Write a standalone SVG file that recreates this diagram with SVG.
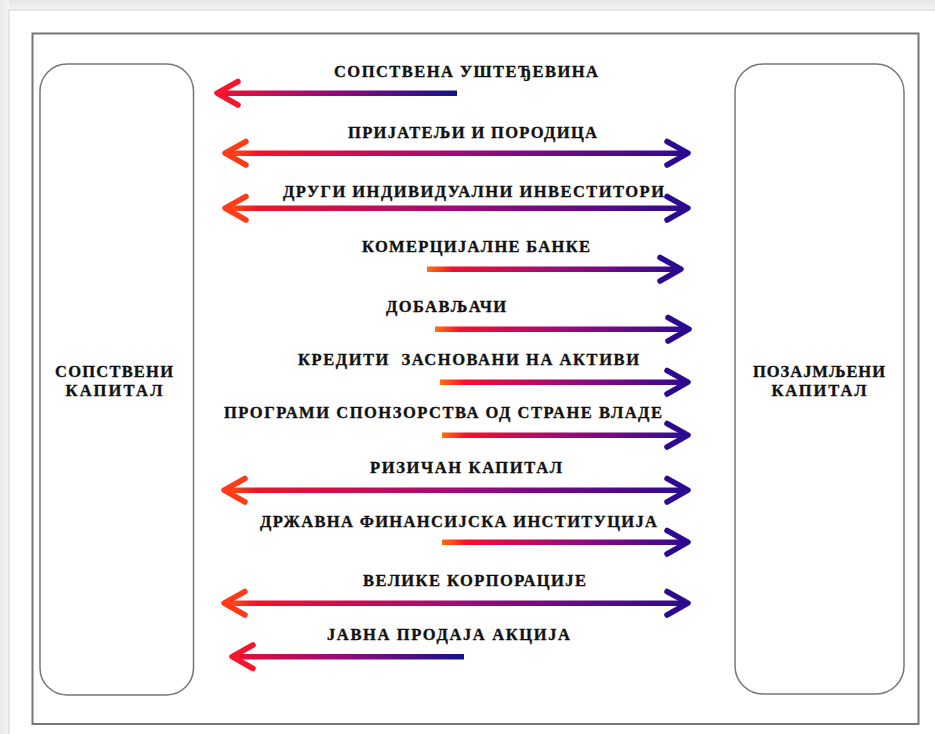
<svg xmlns="http://www.w3.org/2000/svg" width="935" height="734" viewBox="0 0 935 734">
<defs>
<linearGradient id="bgTop" x1="0" y1="0" x2="0" y2="1"><stop offset="0" stop-color="#e6e6e6"/><stop offset="1" stop-color="#f4f4f4"/></linearGradient>
<linearGradient id="bgLeft" x1="0" y1="0" x2="1" y2="0"><stop offset="0" stop-color="#e8e8e8"/><stop offset="1" stop-color="#f6f6f6"/></linearGradient>
<linearGradient id="gBoth" x1="0" y1="0" x2="1" y2="0"><stop offset="0" stop-color="#ff5a10"/><stop offset="0.07" stop-color="#f5102a"/><stop offset="0.5" stop-color="#a00a78"/><stop offset="1" stop-color="#2c0a90"/></linearGradient>
<linearGradient id="gRight" x1="0" y1="0" x2="1" y2="0"><stop offset="0" stop-color="#ff7010"/><stop offset="0.1" stop-color="#f5102a"/><stop offset="0.5" stop-color="#a00a78"/><stop offset="1" stop-color="#300a92"/></linearGradient>
<linearGradient id="gLeft" x1="0" y1="0" x2="1" y2="0"><stop offset="0" stop-color="#f01030"/><stop offset="0.45" stop-color="#9a0a7a"/><stop offset="1" stop-color="#15128a"/></linearGradient>
</defs>
<style>
.frame{fill:none;stroke:#777;stroke-width:2}
.box{fill:#fff;stroke:#777;stroke-width:1.5}
.lbl{font-family:"Liberation Serif","Times New Roman",serif;font-weight:bold;font-size:16.5px;fill:#111;stroke:#111;stroke-width:0.35}
.hl{fill:none;stroke:#f5152c;stroke-width:5.5;stroke-linecap:round;stroke-linejoin:round}
.hlo{fill:none;stroke:#ff3a18;stroke-width:5.5;stroke-linecap:round;stroke-linejoin:round}
.hr{fill:none;stroke:#2c0a90;stroke-width:5.5;stroke-linecap:round;stroke-linejoin:round}
</style>
<rect x="0" y="0" width="935" height="734" fill="#f3f3f3"/>
<rect x="0" y="0" width="935" height="10" fill="url(#bgTop)"/>
<rect x="0" y="0" width="9" height="734" fill="url(#bgLeft)"/>
<rect x="9" y="10" width="930" height="730" fill="#fff" stroke="#d4d4d4" stroke-width="1"/>
<rect class="frame" x="32.5" y="33.5" width="886" height="690.5"/>

<g id="node-left">
<rect class="box" x="40" y="64" width="153.5" height="631" rx="27"/>
<text class="lbl" x="114" y="377" text-anchor="middle" textLength="118" lengthAdjust="spacing">СОПСТВЕНИ</text>
<text class="lbl" x="114" y="396" text-anchor="middle" textLength="97" lengthAdjust="spacing">КАПИТАЛ</text>
</g>
<g id="node-right">
<rect class="box" x="735" y="64" width="169" height="630" rx="28"/>
<text class="lbl" x="819" y="377" text-anchor="middle" textLength="132" lengthAdjust="spacing">ПОЗАЈМЉЕНИ</text>
<text class="lbl" x="819" y="396" text-anchor="middle" textLength="95" lengthAdjust="spacing">КАПИТАЛ</text>
</g>

<g id="connectors">
<g id="c1">
<rect x="218" y="90.5" width="239" height="5.5" fill="url(#gLeft)"/>
<path class="hl" d="M238,81.5 L217,93.2 L238,105"/>
</g>
<g id="c2">
<rect x="226" y="150.5" width="462" height="5.5" fill="url(#gBoth)"/>
<path class="hlo" d="M246,141.5 L225,153.2 L246,165"/>
<path class="hr" d="M667,141.5 L688,153.2 L667,165"/>
</g>
<g id="c3">
<rect x="226" y="205.5" width="462" height="5.5" fill="url(#gBoth)"/>
<path class="hlo" d="M246,196.5 L225,208.2 L246,220"/>
<path class="hr" d="M667,196.5 L688,208.2 L667,220"/>
</g>
<g id="c4">
<rect x="427" y="266.5" width="254" height="5.5" fill="url(#gRight)"/>
<path class="hr" d="M660,257.5 L681,269.2 L660,281"/>
</g>
<g id="c5">
<rect x="435" y="326.5" width="254" height="5.5" fill="url(#gRight)"/>
<path class="hr" d="M668,317.5 L689,329.2 L668,341"/>
</g>
<g id="c6">
<rect x="440" y="379.5" width="248" height="5.5" fill="url(#gRight)"/>
<path class="hr" d="M667,370.5 L688,382.2 L667,394"/>
</g>
<g id="c7">
<rect x="442" y="432.5" width="246" height="5.5" fill="url(#gRight)"/>
<path class="hr" d="M667,423.5 L688,435.2 L667,447"/>
</g>
<g id="c8">
<rect x="225" y="487.5" width="463" height="5.5" fill="url(#gBoth)"/>
<path class="hlo" d="M245,478.5 L224,490.2 L245,502"/>
<path class="hr" d="M667,478.5 L688,490.2 L667,502"/>
</g>
<g id="c9">
<rect x="442" y="539.5" width="246" height="5.5" fill="url(#gRight)"/>
<path class="hr" d="M667,530.5 L688,542.2 L667,554"/>
</g>
<g id="c10">
<rect x="225" y="600.5" width="463" height="5.5" fill="url(#gBoth)"/>
<path class="hlo" d="M245,591.5 L224,603.2 L245,615"/>
<path class="hr" d="M667,591.5 L688,603.2 L667,615"/>
</g>
<g id="c11">
<rect x="233" y="654" width="231" height="5.5" fill="url(#gLeft)"/>
<path class="hl" d="M253,645 L232,656.7 L253,668.5"/>
</g>
</g>

<g id="labels">
<text class="lbl" x="334" y="77" textLength="264" lengthAdjust="spacing">СОПСТВЕНА УШТЕЂЕВИНА</text>
<text class="lbl" x="348" y="138" textLength="249" lengthAdjust="spacing">ПРИЈАТЕЉИ И ПОРОДИЦА</text>
<text class="lbl" x="283" y="197" textLength="381" lengthAdjust="spacing">ДРУГИ ИНДИВИДУАЛНИ ИНВЕСТИТОРИ</text>
<text class="lbl" x="362" y="252" textLength="228" lengthAdjust="spacing">КОМЕРЦИЈАЛНЕ БАНКЕ</text>
<text class="lbl" x="386" y="312" textLength="120" lengthAdjust="spacing">ДОБАВЉАЧИ</text>
<text class="lbl" x="298" y="365" textLength="341" lengthAdjust="spacing" xml:space="preserve">КРЕДИТИ  ЗАСНОВАНИ НА АКТИВИ</text>
<text class="lbl" x="224" y="418" textLength="438" lengthAdjust="spacing">ПРОГРАМИ СПОНЗОРСТВА ОД СТРАНЕ ВЛАДЕ</text>
<text class="lbl" x="370" y="473" textLength="192" lengthAdjust="spacing">РИЗИЧАН КАПИТАЛ</text>
<text class="lbl" x="260" y="527" textLength="397" lengthAdjust="spacing">ДРЖАВНА ФИНАНСИЈСКА ИНСТИТУЦИЈА</text>
<text class="lbl" x="363" y="586" textLength="223" lengthAdjust="spacing">ВЕЛИКЕ КОРПОРАЦИЈЕ</text>
<text class="lbl" x="327" y="640" textLength="243" lengthAdjust="spacing">ЈАВНА ПРОДАЈА АКЦИЈА</text>
</g>
</svg>
